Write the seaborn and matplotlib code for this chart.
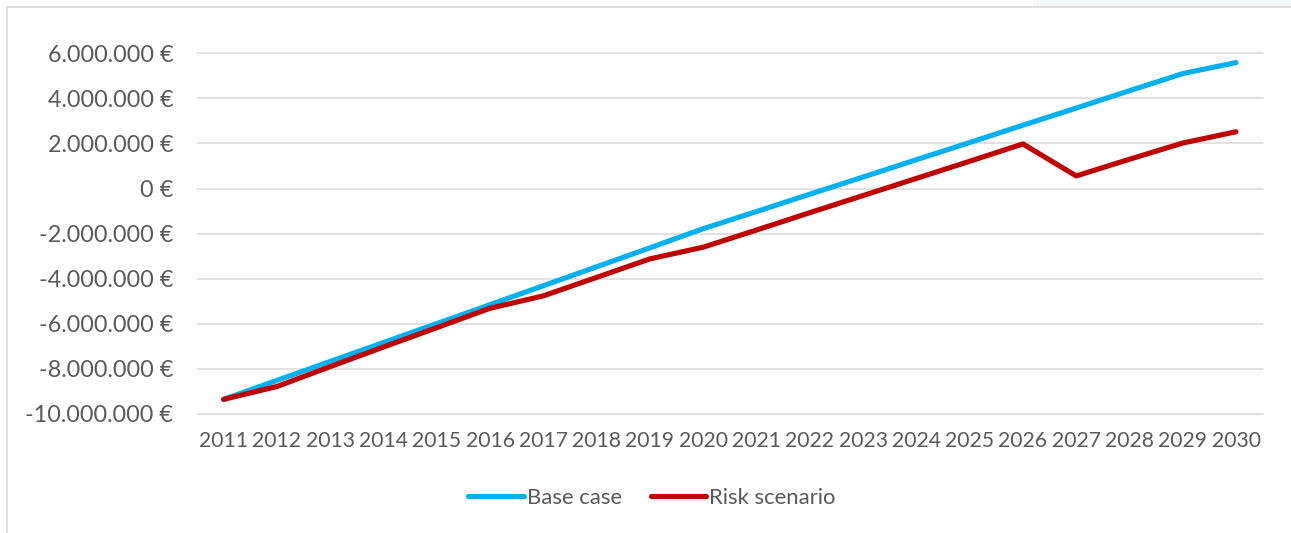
import matplotlib
matplotlib.use("Agg")
import matplotlib.pyplot as plt
import matplotlib.ticker as mticker
from matplotlib.patches import Rectangle
import seaborn as sns
import pandas as pd

years = [str(y) for y in range(2011, 2031)]
base_case = [-9.35, -8.51, -7.67, -6.83, -5.99, -5.15, -4.31, -3.47, -2.63, -1.78,
             -1.02, -0.25, 0.51, 1.28, 2.04, 2.81, 3.57, 4.34, 5.10, 5.59]
risk_scenario = [-9.35, -8.78, -7.90, -7.03, -6.17, -5.31, -4.76, -3.94, -3.12, -2.60,
                 -1.84, -1.07, -0.31, 0.45, 1.21, 1.98, 0.56, 1.30, 2.02, 2.52]
series_names = ["Base case", "Risk scenario"]
y_ticks = [-10e6, -8e6, -6e6, -4e6, -2e6, 0, 2e6, 4e6, 6e6]

df = pd.DataFrame({
    "year": years * 2,
    "value": [v * 1e6 for v in base_case] + [v * 1e6 for v in risk_scenario],
    "series": [series_names[0]] * len(years) + [series_names[1]] * len(years),
})

sns.set_theme(style="white")
plt.rcParams["font.family"] = ["Lato", "DejaVu Sans"]

W, H = 1291, 533
fig = plt.figure(figsize=(W / 100, H / 100), dpi=100)
ax = fig.add_axes([197 / W, 1 - 414 / H, (1262.7 - 197) / W, (414 - 53.3) / H])

# chart frame
fig.patches.append(Rectangle((1033 / W, 1 - 7 / H), 1 - 1033 / W, 7 / H,
                             transform=fig.transFigure, facecolor="#F4F8FD",
                             edgecolor="none", zorder=0))
fig.patches.append(Rectangle((6.5 / W, -0.1), 1.2, 1.1 - 7.5 / H,
                             transform=fig.transFigure, facecolor="none",
                             edgecolor="#D9D9D9", linewidth=1.2, zorder=0))

palette = {"Base case": "#00B0F0", "Risk scenario": "#C00000"}
sns.lineplot(data=df, x="year", y="value", hue="series", palette=palette,
             linewidth=3.7, ax=ax, sort=False, legend=True)
for ln in ax.get_lines():
    ln.set_solid_capstyle("round")
    ln.set_solid_joinstyle("round")
    ln.set_zorder(3)

ax.set_xlim(-0.5, len(years) - 0.5)
ax.set_ylim(-10e6, 6e6)
ax.set_yticks(y_ticks)


def euro(v, pos):
    s = f"{abs(int(round(v))):,}".replace(",", ".")
    return ("-" if v < 0 else "") + s + " €"


ax.yaxis.set_major_formatter(mticker.FuncFormatter(euro))
ax.grid(axis="y", color="#D9D9D9", linewidth=1.1)
ax.grid(axis="x", visible=False)
for gl in ax.get_ygridlines():
    gl.set_clip_on(False)
for sp in ax.spines.values():
    sp.set_visible(False)
ax.tick_params(axis="y", length=0, pad=17, labelsize=16.8, labelcolor="#595959")
ax.tick_params(axis="x", length=0, pad=12, labelsize=15.2, labelcolor="#595959")
ax.set_xlabel("")
ax.set_ylabel("")

handles, labels = ax.get_legend_handles_labels()
ax.legend_.remove()
for h in handles:
    h.set_linewidth(3.7)
    h.set_solid_capstyle("round")
leg = fig.legend(handles, labels, loc="center", bbox_to_anchor=(652 / W, 1 - 498 / H),
                 ncol=2, frameon=False, fontsize=15.9, handlelength=2.5,
                 handletextpad=0.15, columnspacing=1.3)
for t in leg.get_texts():
    t.set_color("#595959")

fig.savefig("out.png", dpi=100)
